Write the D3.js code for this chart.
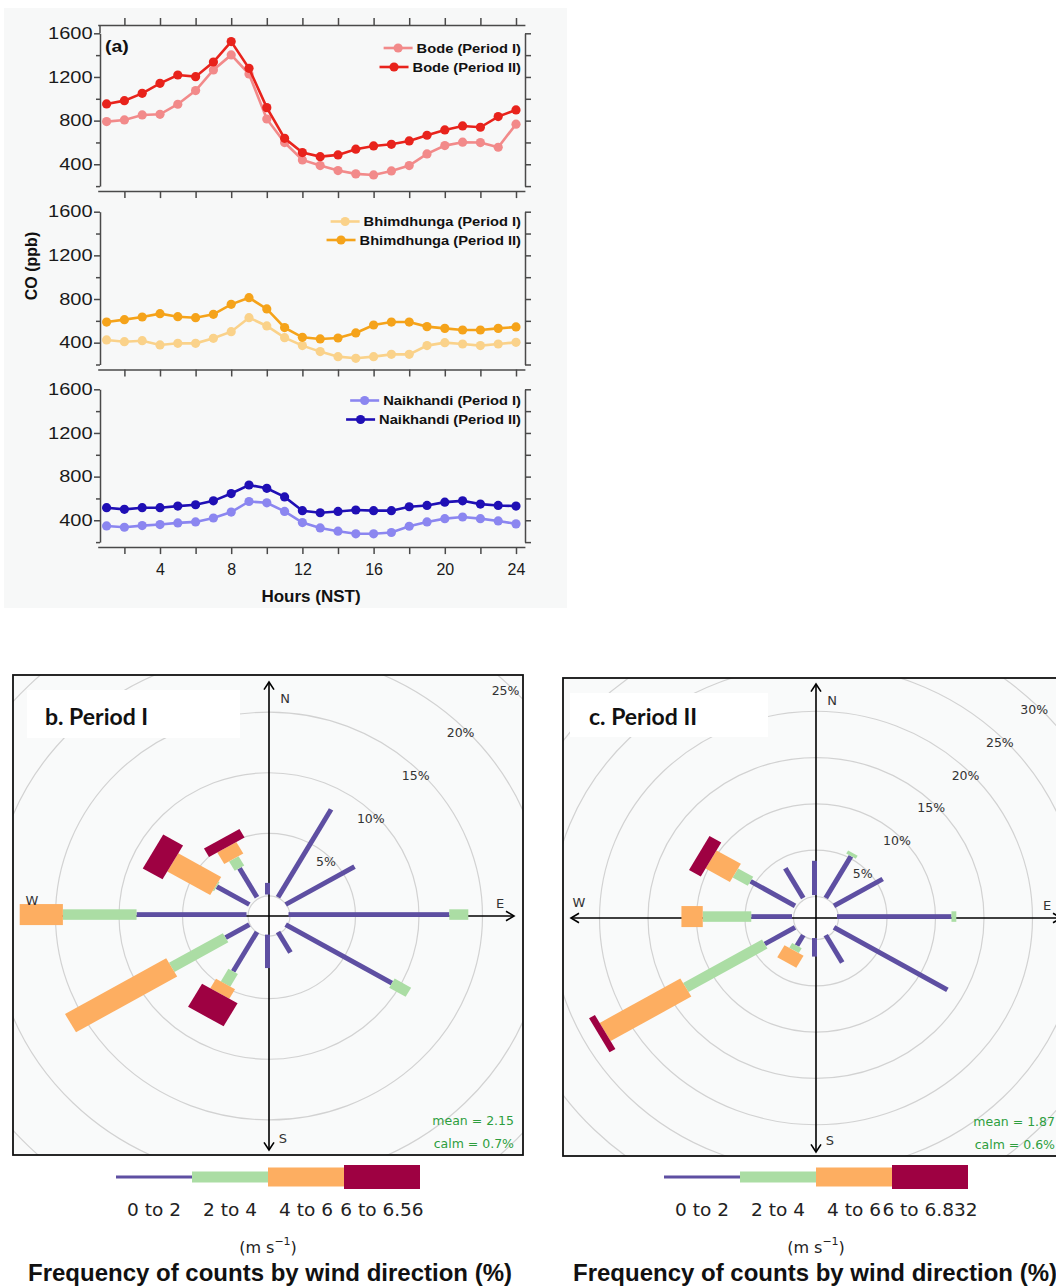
<!DOCTYPE html>
<html>
<head>
<meta charset="UTF-8">
<title>CO diurnal cycle and wind roses</title>
<script src="https://cdn.jsdelivr.net/npm/d3@7/dist/d3.min.js"></script>
<style>
  body { margin: 0; background: #fff; }
  svg { display: block; }
</style>
</head>
<body>
<svg width="1056" height="1288"></svg>
<script>
// ---------- data: panel (a) ----------
var hours = [1,2,3,4,5,6,7,8,9,10,11,12,13,14,15,16,17,18,19,20,21,22,23,24];
var bodeP1 = [791,806,852,858,950,1075,1264,1402,1227,815,599,440,388,342,312,302,339,388,495,571,602,599,556,767];
var bodeP2 = [953,983,1050,1142,1218,1203,1337,1524,1279,919,638,507,470,486,538,568,583,614,666,715,751,739,837,898];
var bhimP1 = [425,409,418,379,394,394,440,501,629,553,446,373,318,272,257,272,293,293,373,400,388,373,388,403];
var bhimP2 = [589,611,635,666,638,629,660,751,812,709,538,449,434,443,489,562,589,589,547,531,516,516,531,544];
var naikP1 = [348,336,351,361,376,385,421,475,572,560,481,379,330,300,276,276,288,345,385,415,430,415,394,367];
var naikP2 = [515,500,515,515,530,542,578,645,723,693,614,488,469,481,494,488,488,524,536,566,578,548,536,530];
var xTicks = [2,4,6,8,10,12,14,16,18,20,22,24];
var yTicks = [200,400,600,800,1000,1200,1400,1600];

// ---------- data: wind roses (% per direction, per speed bin) ----------
var dirs = [0,30,60,90,120,150,180,210,240,270,300,330];
var binsB = ["0 to 2","2 to 4","4 to 6","6 to 6.56"];
var binsC = ["0 to 2","2 to 4","4 to 6","6 to 6.832"];
var roseB0 = [0.8,8.2,6.1,12.5,9.5,1.8,2.6,3.6,2.0,8.5,2.8,2.6];
var roseB1 = [0,0,0,1.5,1.5,0,0,1.2,4.9,5.8,0.1,0.9];
var roseB2 = [0,0,0,0,0,0,0,0.9,9.2,3.4,3.9,1.1];
var roseB3 = [0,0,0,0,0,0,0,2.2,0,0,1.8,0.8];
var roseC0 = [3.7,5.2,5.8,11.8,13.5,3.4,2.0,1.3,3.6,4.2,5.3,3.7];
var roseC1 = [0,0.4,0,0.5,0,0,0,0.6,9.4,5.0,1.8,0];
var roseC2 = [0,0,0,0,0,0,0,1.5,9.6,2.2,2.9,0];
var roseC3 = [0,0,0,0,0,0,0,0,0.7,0,1.4,0];
var ringsB = [5,10,15,20,25,30];
var ringsC = [5,10,15,20,25,30,35];

var svg = d3.select("svg");
var sans = "'Liberation Sans', Arial, sans-serif";

// ================= panel (a) =================
svg.append("rect").attr("x",4).attr("y",8).attr("width",563).attr("height",600).attr("fill","#f7f8f8");

var x = d3.scaleLinear().domain([0.5, 24.5]).range([97.7, 524.9]);
var leftX = 100, rightX = 525, plotH = 152.8;
var axisCol = "#4a4a4a";

var panels = [
  {top: 33.3, series: [bodeP1, bodeP2], names: ["Bode (Period I)","Bode (Period II)"],
   colors: ["#f28a8a","#e8231c"], legY: [48, 67]},
  {top: 211.7, series: [bhimP1, bhimP2], names: ["Bhimdhunga (Period I)","Bhimdhunga (Period II)"],
   colors: ["#fad28a","#f5a31a"], legY: [221.5, 240]},
  {top: 389.3, series: [naikP1, naikP2], names: ["Naikhandi (Period I)","Naikhandi (Period II)"],
   colors: ["#8b86f0","#1f0fb5"], legY: [400.5, 419.5]}
];

function styleAxis(g, fs) {
  g.selectAll("path.domain").attr("stroke", axisCol).attr("stroke-width", 1.5);
  g.selectAll(".tick line").attr("stroke", axisCol).attr("stroke-width", 1.5);
  g.selectAll(".tick text").attr("fill", "#1a1a1a").attr("font-family", sans).attr("font-size", fs);
}

panels.forEach(function(p, k) {
  var y = d3.scaleLinear().domain([200, 1600]).range([p.top + plotH, p.top]);
  var bottomY = p.top + plotH + 5;

  var gl = svg.append("g").attr("transform", "translate(" + leftX + ",0)")
    .call(d3.axisLeft(y).tickValues(yTicks).tickSizeInner(6).tickSizeOuter(0).tickPadding(0)
      .tickFormat(function(d){ return d % 400 === 0 ? d : ""; }));
  styleAxis(gl, 16);
  gl.selectAll(".tick text").attr("transform", "scale(1.25,1)");
  gl.selectAll(".tick line").attr("x2", function(d){ return d % 400 === 0 ? -6 : -4; });

  var gr = svg.append("g").attr("transform", "translate(" + rightX + ",0)")
    .call(d3.axisRight(y).tickValues(yTicks).tickSizeInner(6).tickSizeOuter(0).tickFormat(""));
  styleAxis(gr, 16);

  var gb = svg.append("g").attr("transform", "translate(0," + bottomY + ")")
    .call(d3.axisBottom(x).tickValues(xTicks).tickSizeInner(7).tickSizeOuter(0).tickPadding(10)
      .tickFormat(function(d){ return (k === 2 && d % 4 === 0) ? d : ""; }));
  styleAxis(gb, 16);

  if (k === 0) {
    var gt = svg.append("g").attr("transform", "translate(0,25)")
      .call(d3.axisTop(x).tickValues(xTicks).tickSizeInner(7).tickSizeOuter(0).tickFormat(""));
    styleAxis(gt, 16);
    svg.append("line").attr("x1", leftX).attr("x2", leftX).attr("y1", 25).attr("y2", y(1600))
      .attr("stroke", axisCol).attr("stroke-width", 1.5);
  }

  var line = d3.line().x(function(d, i){ return x(hours[i]); }).y(function(d){ return y(d); });
  p.series.forEach(function(s, j) {
    svg.append("path").datum(s).attr("d", line).attr("fill", "none")
      .attr("stroke", p.colors[j]).attr("stroke-width", 2.6);
    svg.append("g").selectAll("circle").data(s).join("circle")
      .attr("cx", function(d, i){ return x(hours[i]); })
      .attr("cy", function(d){ return y(d); })
      .attr("r", 4.6).attr("fill", p.colors[j]);
  });

  // legend
  p.names.forEach(function(n, j) {
    var t = svg.append("text").attr("transform", "translate(521," + p.legY[j] + ") scale(1.13,1)")
      .attr("text-anchor", "end").attr("dominant-baseline", "central")
      .attr("font-family", sans).attr("font-weight", "bold")
      .attr("font-size", 13).attr("fill", "#111").text(n);
    var x0 = 521 - t.node().getComputedTextLength() * 1.13 - 4;
    svg.append("line").attr("x1", x0 - 29).attr("x2", x0).attr("y1", p.legY[j]).attr("y2", p.legY[j])
      .attr("stroke", p.colors[j]).attr("stroke-width", 2.6);
    svg.append("circle").attr("cx", x0 - 14.5).attr("cy", p.legY[j]).attr("r", 4.6).attr("fill", p.colors[j]);
  });
});

svg.append("text").attr("transform", "translate(105,45.5) scale(1.15,1)").attr("dominant-baseline", "central")
  .attr("font-family", sans).attr("font-weight", "bold")
  .attr("font-size", 17).attr("fill", "#111").text("(a)");

svg.append("text").attr("transform", "translate(31,266) rotate(-90)").attr("text-anchor", "middle")
  .attr("dominant-baseline", "central")
  .attr("font-family", sans).attr("font-weight", "bold")
  .attr("font-size", 16).attr("fill", "#111").text("CO (ppb)");

svg.append("text").attr("x", 311).attr("y", 596).attr("text-anchor", "middle")
  .attr("dominant-baseline", "central")
  .attr("font-family", sans).attr("font-weight", "bold")
  .attr("font-size", 17).attr("fill", "#111").text("Hours (NST)");

// ================= wind roses =================
var binColors = ["#5e4fa2", "#abdda4", "#fdae61", "#9e0142"];
var binWidths = [5, 11, 22, 41];
var legHeights = [3, 11, 19, 24];
var sy = 0.955;
var roseFont = "'DejaVu Sans', Verdana, sans-serif";

function drawRose(o) {
  var clipId = "clip-" + o.id;
  svg.append("clipPath").attr("id", clipId).append("rect")
    .attr("x", o.box[0]).attr("y", o.box[1]).attr("width", o.box[2]).attr("height", o.box[3]);
  svg.append("rect").attr("x", o.box[0]).attr("y", o.box[1]).attr("width", o.box[2]).attr("height", o.box[3])
    .attr("fill", "#f9fafa");

  var inner = svg.append("g").attr("clip-path", "url(#" + clipId + ")");
  var rg = inner.append("g").attr("transform", "translate(" + o.cx + "," + o.cy + ") scale(1," + sy + ")");
  var r = d3.scaleLinear().domain([0, 5]).range([o.r0, o.r0 + 5 * o.k]);

  rg.selectAll("circle.ring").data(o.rings).join("circle").attr("class", "ring")
    .attr("r", function(d){ return r(d); }).attr("fill", "none")
    .attr("stroke", "#d2d2d2").attr("stroke-width", 1.2).attr("vector-effect", "non-scaling-stroke");
  rg.append("circle").attr("r", o.hole).attr("fill", "#fcfcfc")
    .attr("stroke", "#d2d2d2").attr("stroke-width", 1.2).attr("vector-effect", "non-scaling-stroke");

  // compass axes with open arrow heads
  var L = 245;
  var ax = rg.append("g").attr("stroke", "#000").attr("fill", "none").attr("stroke-width", 1.6);
  ax.append("line").attr("x1", -L).attr("x2", L).attr("y1", 0).attr("y2", 0).attr("vector-effect", "non-scaling-stroke");
  ax.append("line").attr("x1", 0).attr("x2", 0).attr("y1", -L).attr("y2", L).attr("vector-effect", "non-scaling-stroke");
  [[0,-L,0],[L,0,90],[0,L,180],[-L,0,270]].forEach(function(a) {
    ax.append("path").attr("transform", "translate(" + a[0] + "," + a[1] + ") rotate(" + a[2] + ")")
      .attr("d", "M-5,8L0,0L5,8").attr("vector-effect", "non-scaling-stroke");
  });

  // paddles
  var bars = rg.append("g").attr("transform", "translate(-1.5,-1.5)");
  dirs.forEach(function(dir, i) {
    var gd = bars.append("g").attr("transform", "rotate(" + dir + ")");
    var cum = 0;
    o.bins.forEach(function(arr, b) {
      var v = arr[i];
      if (v > 0) {
        var r1 = cum === 0 ? o.hole : r(cum);
        var r2 = r(cum + v);
        gd.append("rect").attr("x", -binWidths[b] / 2).attr("y", -r2)
          .attr("width", binWidths[b]).attr("height", r2 - r1).attr("fill", binColors[b]);
      }
      cum += v;
    });
  });

  // ring labels
  inner.selectAll("text.rl").data(o.labels).join("text").attr("class", "rl")
    .attr("x", function(d){ return o.cx + (r(d) - o.lOff) * Math.SQRT1_2; })
    .attr("y", function(d){ return o.cy - (r(d) - o.lOff) * Math.SQRT1_2 * sy; })
    .attr("text-anchor", "middle").attr("dominant-baseline", "central")
    .attr("font-family", roseFont).attr("font-size", 12.5).attr("fill", "#333")
    .text(function(d){ return d + "%"; });

  // compass letters
  [["N",16,-218],["E",231,-13],["S",14,222],["W",-237,-16]].forEach(function(c) {
    inner.append("text").attr("x", o.cx + c[1]).attr("y", o.cy + c[2]).attr("text-anchor", "middle")
      .attr("dominant-baseline", "central").attr("font-family", roseFont).attr("font-size", 13)
      .attr("fill", "#333").text(c[0]);
  });

  // stats
  var right = Math.min(o.box[0] + o.box[2] - 9, 1055);
  inner.append("text").attr("x", right).attr("y", o.box[1] + o.box[3] - 35).attr("text-anchor", "end")
    .attr("dominant-baseline", "central").attr("font-family", roseFont).attr("font-size", 12.5)
    .attr("fill", "#2e9e3e").text("mean = " + o.mean);
  inner.append("text").attr("x", right).attr("y", o.box[1] + o.box[3] - 12).attr("text-anchor", "end")
    .attr("dominant-baseline", "central").attr("font-family", roseFont).attr("font-size", 12.5)
    .attr("fill", "#2e9e3e").text("calm = " + o.calm + "%");

  // title label
  inner.append("rect").attr("x", o.tBox[0]).attr("y", o.tBox[1]).attr("width", o.tBox[2]).attr("height", o.tBox[3])
    .attr("fill", "#fff");
  inner.append("text").attr("x", o.tx).attr("y", 725).attr("font-family", "Lato, 'Open Sans', sans-serif")
    .attr("font-weight", "bold").attr("font-size", 23).attr("fill", "#111").text(o.title);

  svg.append("rect").attr("x", o.box[0]).attr("y", o.box[1]).attr("width", o.box[2]).attr("height", o.box[3])
    .attr("fill", "none").attr("stroke", "#111").attr("stroke-width", 1.8);

  // speed legend
  var lx = d3.scaleLinear().domain([0, 4]).range([o.legX, o.legX + 4 * 76]);
  var lg = svg.append("g");
  o.binNames.forEach(function(n, b) {
    lg.append("rect").attr("x", lx(b)).attr("y", 1177 - legHeights[b] / 2)
      .attr("width", lx(b + 1) - lx(b)).attr("height", legHeights[b]).attr("fill", binColors[b]);
    lg.append("text").attr("x", (lx(b) + lx(b + 1)) / 2).attr("y", 1209).attr("text-anchor", "middle")
      .attr("dominant-baseline", "central").attr("font-family", roseFont).attr("font-size", 18.5)
      .attr("fill", "#222").text(n);
  });
  var u = lg.append("text").attr("x", (lx(0) + lx(4)) / 2).attr("y", 1247).attr("text-anchor", "middle")
    .attr("dominant-baseline", "central").attr("font-family", roseFont).attr("font-size", 16).attr("fill", "#222");
  u.append("tspan").text("(m s");
  u.append("tspan").attr("dy", -6).attr("font-size", 11).text("\u22121");
  u.append("tspan").attr("dy", 6).text(")");
  lg.append("text").attr("x", o.titleX).attr("y", 1281).attr("text-anchor", "middle")
    .attr("font-family", sans).attr("font-weight", "bold").attr("font-size", 24).attr("fill", "#111")
    .text("Frequency of counts by wind direction (%)");
}

drawRose({id: "b", cx: 269, cy: 916, box: [13, 675, 510, 480], r0: 23, k: 12.7, hole: 21, lOff: 6,
  rings: ringsB, labels: [5,10,15,20,25], bins: [roseB0, roseB1, roseB2, roseB3], binNames: binsB,
  mean: "2.15", calm: "0.7", title: "b. Period I", tx: 45, tBox: [27, 690, 213, 48],
  legX: 116, titleX: 270});
drawRose({id: "c", cx: 816, cy: 918, box: [563, 678, 510, 478], r0: 22.5, k: 9.7, hole: 22.5, lOff: 5,
  rings: ringsC, labels: [5,10,15,20,25,30], bins: [roseC0, roseC1, roseC2, roseC3], binNames: binsC,
  mean: "1.87", calm: "0.6", title: "c. Period II", tx: 589, tBox: [570, 693, 198, 44],
  legX: 664, titleX: 815});
</script>
</body>
</html>
